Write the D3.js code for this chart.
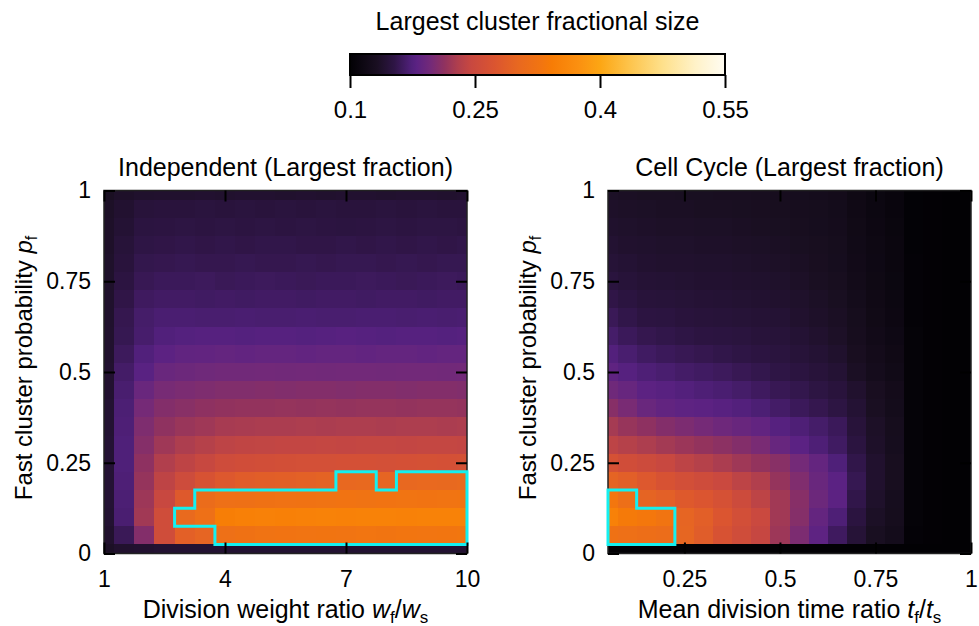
<!DOCTYPE html>
<html>
<head>
<meta charset="utf-8">
<script src="https://cdn.jsdelivr.net/npm/d3@7"></script>
<style>
  body { margin: 0; background: #fff; }
  text { font-family: "Liberation Sans", Arial, sans-serif; fill: #000; }
</style>
</head>
<body>
<svg id="chart" width="979" height="626"></svg>
<script>
// grid centres
const weightRatios = [1, 1.5, 2, 2.5, 3, 3.5, 4, 4.5, 5, 5.5, 6, 6.5, 7, 7.5, 8, 8.5, 9, 9.5, 10];
const timeRatios = [0.05, 0.1, 0.15, 0.2, 0.25, 0.3, 0.35, 0.4, 0.45, 0.5, 0.55, 0.6, 0.65, 0.7, 0.75, 0.8, 0.85, 0.9, 0.95, 1];
// rows from top (p = 1) to bottom (p = 0)
const fastProbs = [1, 0.95, 0.9, 0.85, 0.8, 0.75, 0.7, 0.65, 0.6, 0.55, 0.5, 0.45, 0.4, 0.35, 0.3, 0.25, 0.2, 0.15, 0.1, 0.05, 0];

// largest cluster fraction, Independent model (rows = fastProbs, cols = weightRatios)
const independentLargest = [
  [0.133, 0.137, 0.139, 0.140, 0.140, 0.141, 0.140, 0.141, 0.141, 0.140, 0.141, 0.140, 0.141, 0.141, 0.140, 0.141, 0.141, 0.140, 0.141],
  [0.136, 0.141, 0.147, 0.148, 0.148, 0.149, 0.148, 0.149, 0.148, 0.149, 0.148, 0.149, 0.148, 0.148, 0.149, 0.148, 0.149, 0.148, 0.148],
  [0.137, 0.143, 0.150, 0.151, 0.152, 0.151, 0.152, 0.151, 0.152, 0.151, 0.152, 0.151, 0.150, 0.151, 0.152, 0.151, 0.152, 0.152, 0.151],
  [0.137, 0.146, 0.153, 0.154, 0.155, 0.154, 0.155, 0.154, 0.155, 0.155, 0.154, 0.154, 0.155, 0.154, 0.155, 0.154, 0.155, 0.154, 0.155],
  [0.138, 0.148, 0.156, 0.157, 0.158, 0.157, 0.157, 0.158, 0.157, 0.157, 0.158, 0.157, 0.158, 0.158, 0.157, 0.158, 0.157, 0.158, 0.158],
  [0.138, 0.151, 0.159, 0.161, 0.161, 0.162, 0.160, 0.161, 0.162, 0.161, 0.160, 0.161, 0.161, 0.162, 0.161, 0.160, 0.161, 0.162, 0.161],
  [0.139, 0.154, 0.163, 0.165, 0.165, 0.164, 0.165, 0.164, 0.165, 0.165, 0.164, 0.165, 0.165, 0.164, 0.165, 0.165, 0.164, 0.165, 0.165],
  [0.139, 0.157, 0.167, 0.170, 0.170, 0.169, 0.169, 0.170, 0.169, 0.169, 0.170, 0.169, 0.169, 0.170, 0.170, 0.169, 0.170, 0.169, 0.170],
  [0.140, 0.158, 0.168, 0.174, 0.176, 0.177, 0.177, 0.176, 0.177, 0.177, 0.176, 0.177, 0.178, 0.177, 0.176, 0.177, 0.177, 0.176, 0.177],
  [0.140, 0.162, 0.174, 0.181, 0.184, 0.185, 0.186, 0.185, 0.186, 0.186, 0.185, 0.186, 0.186, 0.185, 0.186, 0.186, 0.185, 0.186, 0.186],
  [0.141, 0.166, 0.179, 0.190, 0.192, 0.194, 0.195, 0.195, 0.196, 0.195, 0.196, 0.195, 0.196, 0.196, 0.195, 0.196, 0.196, 0.195, 0.196],
  [0.141, 0.169, 0.190, 0.199, 0.201, 0.203, 0.205, 0.205, 0.206, 0.205, 0.206, 0.206, 0.205, 0.206, 0.206, 0.205, 0.206, 0.206, 0.205],
  [0.142, 0.171, 0.198, 0.206, 0.209, 0.212, 0.214, 0.215, 0.215, 0.216, 0.215, 0.216, 0.215, 0.216, 0.216, 0.215, 0.216, 0.216, 0.215],
  [0.142, 0.172, 0.203, 0.213, 0.218, 0.221, 0.225, 0.226, 0.227, 0.227, 0.228, 0.227, 0.228, 0.228, 0.227, 0.228, 0.228, 0.227, 0.228],
  [0.143, 0.173, 0.207, 0.221, 0.228, 0.233, 0.238, 0.240, 0.241, 0.242, 0.242, 0.243, 0.242, 0.243, 0.243, 0.242, 0.243, 0.243, 0.242],
  [0.143, 0.173, 0.212, 0.230, 0.239, 0.245, 0.254, 0.257, 0.259, 0.261, 0.262, 0.262, 0.263, 0.263, 0.262, 0.263, 0.264, 0.263, 0.264],
  [0.143, 0.172, 0.216, 0.239, 0.253, 0.268, 0.278, 0.284, 0.287, 0.289, 0.291, 0.294, 0.302, 0.303, 0.297, 0.302, 0.304, 0.303, 0.305],
  [0.143, 0.171, 0.220, 0.246, 0.280, 0.310, 0.318, 0.320, 0.322, 0.323, 0.324, 0.325, 0.326, 0.325, 0.326, 0.327, 0.326, 0.327, 0.328],
  [0.142, 0.170, 0.222, 0.256, 0.305, 0.318, 0.345, 0.348, 0.350, 0.349, 0.350, 0.351, 0.350, 0.352, 0.351, 0.350, 0.352, 0.351, 0.352],
  [0.140, 0.160, 0.206, 0.256, 0.290, 0.297, 0.318, 0.322, 0.325, 0.326, 0.327, 0.328, 0.327, 0.329, 0.328, 0.330, 0.329, 0.330, 0.331],
  [0.135, 0.140, 0.141, 0.142, 0.142, 0.142, 0.142, 0.142, 0.142, 0.142, 0.142, 0.142, 0.142, 0.142, 0.142, 0.142, 0.142, 0.142, 0.142]
];

// largest cluster fraction, Cell Cycle model (rows = fastProbs, cols = timeRatios)
const cellCycleLargest = [
  [0.135, 0.134, 0.133, 0.133, 0.132, 0.132, 0.131, 0.131, 0.130, 0.129, 0.128, 0.126, 0.124, 0.118, 0.113, 0.110, 0.102, 0.101, 0.100, 0.100],
  [0.137, 0.136, 0.135, 0.134, 0.134, 0.133, 0.133, 0.132, 0.131, 0.130, 0.129, 0.127, 0.125, 0.119, 0.114, 0.110, 0.102, 0.101, 0.100, 0.100],
  [0.139, 0.138, 0.137, 0.136, 0.136, 0.135, 0.135, 0.134, 0.133, 0.132, 0.130, 0.128, 0.126, 0.120, 0.115, 0.111, 0.102, 0.101, 0.100, 0.100],
  [0.142, 0.140, 0.139, 0.138, 0.138, 0.137, 0.137, 0.136, 0.135, 0.134, 0.132, 0.130, 0.127, 0.121, 0.116, 0.112, 0.102, 0.101, 0.100, 0.100],
  [0.145, 0.143, 0.141, 0.140, 0.140, 0.139, 0.139, 0.138, 0.137, 0.136, 0.134, 0.131, 0.128, 0.122, 0.117, 0.112, 0.103, 0.101, 0.100, 0.100],
  [0.149, 0.146, 0.144, 0.143, 0.142, 0.141, 0.141, 0.140, 0.139, 0.138, 0.136, 0.133, 0.130, 0.123, 0.118, 0.113, 0.103, 0.101, 0.100, 0.100],
  [0.154, 0.150, 0.147, 0.146, 0.145, 0.144, 0.143, 0.142, 0.141, 0.140, 0.138, 0.135, 0.132, 0.125, 0.119, 0.114, 0.103, 0.101, 0.100, 0.100],
  [0.160, 0.155, 0.151, 0.150, 0.148, 0.147, 0.146, 0.145, 0.144, 0.143, 0.140, 0.137, 0.134, 0.127, 0.120, 0.115, 0.103, 0.101, 0.100, 0.100],
  [0.167, 0.161, 0.157, 0.155, 0.153, 0.151, 0.150, 0.149, 0.147, 0.146, 0.143, 0.140, 0.136, 0.129, 0.122, 0.117, 0.104, 0.101, 0.100, 0.100],
  [0.175, 0.169, 0.164, 0.161, 0.159, 0.157, 0.155, 0.153, 0.151, 0.149, 0.146, 0.143, 0.139, 0.131, 0.124, 0.119, 0.104, 0.101, 0.100, 0.100],
  [0.183, 0.177, 0.172, 0.169, 0.166, 0.164, 0.162, 0.159, 0.156, 0.153, 0.150, 0.147, 0.143, 0.134, 0.126, 0.121, 0.104, 0.101, 0.100, 0.100],
  [0.194, 0.188, 0.181, 0.178, 0.175, 0.172, 0.170, 0.167, 0.163, 0.159, 0.156, 0.152, 0.148, 0.140, 0.131, 0.124, 0.104, 0.101, 0.100, 0.100],
  [0.208, 0.200, 0.190, 0.185, 0.182, 0.181, 0.178, 0.175, 0.171, 0.166, 0.161, 0.157, 0.152, 0.143, 0.133, 0.125, 0.104, 0.101, 0.100, 0.100],
  [0.224, 0.217, 0.212, 0.206, 0.202, 0.198, 0.193, 0.189, 0.185, 0.177, 0.172, 0.167, 0.161, 0.147, 0.136, 0.127, 0.104, 0.101, 0.100, 0.100],
  [0.238, 0.233, 0.228, 0.223, 0.219, 0.215, 0.211, 0.206, 0.200, 0.188, 0.180, 0.172, 0.164, 0.150, 0.137, 0.128, 0.104, 0.101, 0.100, 0.100],
  [0.265, 0.257, 0.252, 0.246, 0.238, 0.233, 0.227, 0.221, 0.215, 0.209, 0.197, 0.186, 0.173, 0.155, 0.140, 0.130, 0.104, 0.101, 0.100, 0.100],
  [0.295, 0.288, 0.278, 0.268, 0.260, 0.255, 0.248, 0.238, 0.230, 0.216, 0.204, 0.190, 0.180, 0.158, 0.140, 0.130, 0.104, 0.101, 0.100, 0.100],
  [0.332, 0.316, 0.296, 0.290, 0.280, 0.274, 0.265, 0.252, 0.238, 0.222, 0.208, 0.192, 0.181, 0.155, 0.138, 0.128, 0.104, 0.101, 0.100, 0.100],
  [0.350, 0.338, 0.334, 0.328, 0.297, 0.288, 0.274, 0.260, 0.248, 0.222, 0.207, 0.186, 0.172, 0.150, 0.135, 0.127, 0.104, 0.101, 0.100, 0.100],
  [0.322, 0.318, 0.315, 0.312, 0.298, 0.285, 0.268, 0.256, 0.244, 0.220, 0.202, 0.182, 0.163, 0.145, 0.132, 0.125, 0.103, 0.101, 0.100, 0.100],
  [0.100, 0.100, 0.100, 0.100, 0.100, 0.100, 0.100, 0.100, 0.100, 0.100, 0.100, 0.100, 0.100, 0.100, 0.100, 0.100, 0.100, 0.100, 0.100, 0.100]
];

const contourLevel = 0.3;
const colorRange = [0.1, 0.55];
const colorTicks = [0.1, 0.25, 0.4, 0.55];
const probTicks = [0, 0.25, 0.5, 0.75, 1];
const weightTicks = [1, 4, 7, 10];
const timeTicks = [0.25, 0.5, 0.75, 1];

// colour map picked off the colour bar (position 0..1 along the bar)
const cmapPos = [0, 0.073, 0.118, 0.163, 0.178, 0.216, 0.252, 0.288, 0.323, 0.386, 0.448, 0.511, 0.538, 0.609, 0.667, 0.743, 0.832, 0.921, 1];
const cmapCol = ['#020104', '#1a0f22', '#2e1545', '#50207a', '#5b2283', '#742a78', '#90325f', '#b03f4d', '#c84840',
                 '#db5530', '#e86820', '#f27510', '#f77c05', '#fb9010', '#fca614', '#fdc34a', '#fee08a', '#fff2c8', '#fffcf2'];

const color = d3.scaleLinear()
    .domain(cmapPos.map(t => colorRange[0] + t * (colorRange[1] - colorRange[0])))
    .range(cmapCol)
    .interpolate(d3.interpolateRgb)
    .clamp(true);

const svg = d3.select('#chart');
const plotTop = 190.5, plotBottom = 553.5;
const tickLen = 11;

// colour bar
const cbScale = d3.scaleLinear().domain(colorRange).range([350, 725]);
const grad = svg.append('defs').append('linearGradient').attr('id', 'cbar');
cmapPos.forEach((t, i) => {
    grad.append('stop').attr('offset', t).attr('stop-color', cmapCol[i]);
});
svg.append('rect')
    .attr('x', cbScale(colorRange[0])).attr('y', 54)
    .attr('width', cbScale(colorRange[1]) - cbScale(colorRange[0])).attr('height', 21)
    .attr('fill', 'url(#cbar)').attr('stroke', '#000').attr('stroke-width', 2);
svg.append('g')
    .attr('transform', 'translate(0,75)')
    .call(d3.axisBottom(cbScale).tickValues(colorTicks).tickSize(13).tickSizeOuter(0).tickPadding(13).tickFormat(String))
    .call(g => g.select('.domain').remove())
    .call(g => g.selectAll('line').attr('stroke-width', 2))
    .call(g => g.selectAll('text').attr('font-size', 24).attr('font-family', null));
svg.append('text')
    .attr('x', 537.5).attr('y', 30)
    .attr('text-anchor', 'middle').attr('font-size', 25)
    .text('Largest cluster fractional size');

function cellBounds(px, range) {
    return px.map((v, i) => [
        i === 0 ? range[0] : (px[i - 1] + v) / 2,
        i === px.length - 1 ? range[1] : (v + px[i + 1]) / 2
    ]);
}

function drawPanel(p) {
    const x = d3.scaleLinear().domain(p.xDomain).range([p.left, p.right]);
    const y = d3.scaleLinear().domain([0, 1]).range([plotBottom, plotTop]);
    const xb = cellBounds(p.xs.map(x), [p.left, p.right]);
    const yb = cellBounds(fastProbs.map(y), [plotTop, plotBottom]);
    const grid = p.grid;

    const cells = [];
    grid.forEach((row, i) => row.forEach((v, j) => cells.push({i, j, v})));

    const g = svg.append('g');
    g.selectAll('rect.cell')
        .data(cells)
        .enter()
            .append('rect')
                .attr('class', 'cell')
                .attr('x', d => xb[d.j][0])
                .attr('y', d => yb[d.i][0])
                .attr('width', d => xb[d.j][1] - xb[d.j][0])
                .attr('height', d => yb[d.i][1] - yb[d.i][0])
                .attr('fill', d => color(d.v))
                .attr('shape-rendering', 'crispEdges');

    // frame
    g.append('rect')
        .attr('x', p.left).attr('y', plotTop)
        .attr('width', p.right - p.left).attr('height', plotBottom - plotTop)
        .attr('fill', 'none').attr('stroke', '#222').attr('stroke-width', 1.5);

    // outline of cells at or above the contour level
    const inside = (i, j) => i >= 0 && i < grid.length && j >= 0 && j < grid[0].length && grid[i][j] >= contourLevel;
    let path = '';
    grid.forEach((row, i) => row.forEach((v, j) => {
        if (!inside(i, j)) return;
        const [x0, x1] = xb[j], [y0, y1] = yb[i];
        if (!inside(i - 1, j)) path += `M${x0},${y0}H${x1}`;
        if (!inside(i + 1, j)) path += `M${x0},${y1}H${x1}`;
        if (!inside(i, j - 1)) path += `M${x0},${y0}V${y1}`;
        if (!inside(i, j + 1)) path += `M${x1},${y0}V${y1}`;
    }));
    g.append('path')
        .attr('d', path)
        .attr('fill', 'none')
        .attr('stroke', '#14f0f0')
        .attr('stroke-width', 3)
        .attr('stroke-linecap', 'square');

    const style = sel => sel
        .call(a => a.select('.domain').remove())
        .call(a => a.selectAll('line').attr('stroke', '#000').attr('stroke-width', 2))
        .call(a => a.selectAll('text').attr('font-size', 23).attr('font-family', null));

    g.append('g')
        .attr('transform', `translate(0,${plotBottom})`)
        .call(d3.axisBottom(x).tickValues(p.xTicks).tickSize(-tickLen).tickSizeOuter(0).tickPadding(17).tickFormat(String))
        .call(style);
    g.append('g')
        .attr('transform', `translate(0,${plotTop})`)
        .call(d3.axisTop(x).tickValues(p.xTicks).tickSize(-tickLen).tickSizeOuter(0).tickFormat(''))
        .call(style);
    g.append('g')
        .attr('transform', `translate(${p.left},0)`)
        .call(d3.axisLeft(y).tickValues(probTicks).tickSize(-tickLen).tickSizeOuter(0).tickPadding(13).tickFormat(String))
        .call(style);
    g.append('g')
        .attr('transform', `translate(${p.right},0)`)
        .call(d3.axisRight(y).tickValues(probTicks).tickSize(-tickLen).tickSizeOuter(0).tickFormat(''))
        .call(style);

    // title
    g.append('text')
        .attr('x', (p.left + p.right) / 2).attr('y', 176)
        .attr('text-anchor', 'middle').attr('font-size', 25)
        .text(p.title);

    // x label
    const xl = g.append('text')
        .attr('x', (p.left + p.right) / 2).attr('y', 618)
        .attr('text-anchor', 'middle').attr('font-size', 25);
    xl.append('tspan').text(p.xLabel);
    xl.append('tspan').attr('font-style', 'italic').text(p.xVar);
    xl.append('tspan').attr('font-size', 17).attr('dy', 5).text('f');
    xl.append('tspan').attr('dy', -5).text('/');
    xl.append('tspan').attr('font-style', 'italic').text(p.xVar);
    xl.append('tspan').attr('font-size', 17).attr('dy', 5).text('s');

    // y label
    const yl = g.append('text')
        .attr('transform', `translate(${p.left - 72},${(plotTop + plotBottom) / 2 - 4}) rotate(-90)`)
        .attr('text-anchor', 'middle').attr('font-size', 24);
    yl.append('tspan').text('Fast cluster probability ');
    yl.append('tspan').attr('font-style', 'italic').text('p');
    yl.append('tspan').attr('font-size', 16).attr('dy', 5).text('f');
}

drawPanel({
    left: 104, right: 467,
    xDomain: [1, 10], xs: weightRatios, xTicks: weightTicks,
    grid: independentLargest,
    title: 'Independent (Largest fraction)',
    xLabel: 'Division weight ratio ', xVar: 'w'
});

drawPanel({
    left: 608, right: 971,
    xDomain: [0.05, 1], xs: timeRatios, xTicks: timeTicks,
    grid: cellCycleLargest,
    title: 'Cell Cycle (Largest fraction)',
    xLabel: 'Mean division time ratio ', xVar: 't'
});
</script>
</body>
</html>
